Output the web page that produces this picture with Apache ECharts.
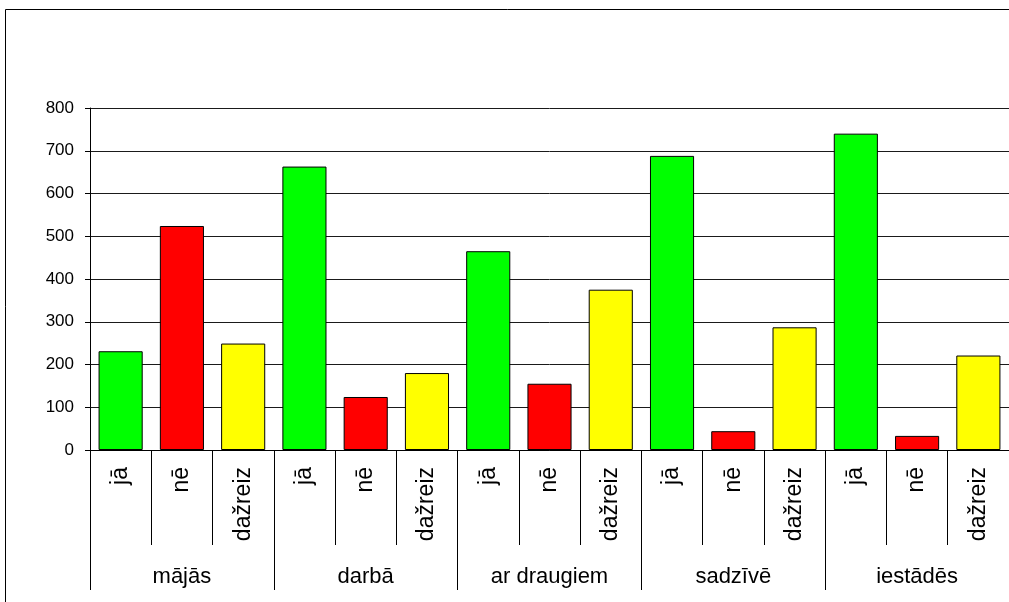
<!DOCTYPE html>
<html>
<head>
<meta charset="UTF-8">
<title>mājās / darbā</title>
<script src="https://cdn.jsdelivr.net/npm/echarts@6/dist/echarts.min.js"></script>
<style>
  html, body { margin: 0; padding: 0; background: #fff; }
  #main { width: 1009px; height: 602px; }
</style>
</head>
<body>
<div id="main"></div>
<script>
  // dati
  var groups = ['mājās', 'darbā', 'ar draugiem', 'sadzīvē', 'iestādēs'];
  var answers = ['jā', 'nē', 'dažreiz'];
  var values = [
    231, 524, 249,
    663, 124, 180,
    465, 155, 375,
    688, 44, 287,
    740, 33, 221
  ];
  var yTicks = [0, 100, 200, 300, 400, 500, 600, 700, 800];
  var answerColors = ['#00ff00', '#ff0000', '#ffff00'];

  var cats = [];
  groups.forEach(function (g) {
    answers.forEach(function (a) { cats.push(a); });
  });

  var font = 'Liberation Sans, Arial, sans-serif';
  var chart = echarts.init(document.getElementById('main'));
  chart.setOption({
    animation: false,
    graphic: [{
      type: 'rect',
      shape: { x: 5.5, y: 9.5, width: 1100, height: 700 },
      style: { fill: 'none', stroke: '#000', lineWidth: 1 },
      silent: true
    }],
    grid: { left: 90, right: -5, top: 108, bottom: 152 },
    xAxis: [{
      type: 'category',
      data: cats,
      position: 'bottom',
      axisLine: { lineStyle: { color: '#000', width: 1 } },
      axisTick: { show: true, interval: 0, length: 95, lineStyle: { color: '#000' } },
      axisLabel: { interval: 0, rotate: 90, margin: 17, color: '#000', fontSize: 23, fontFamily: font }
    }, {
      type: 'category',
      data: groups,
      position: 'bottom',
      axisLine: { show: false },
      axisTick: { show: true, interval: 0, length: 140, lineStyle: { color: '#000' } },
      axisLabel: { interval: 0, margin: 116, color: '#000', fontSize: 22, fontFamily: font }
    }],
    yAxis: {
      type: 'value',
      min: yTicks[0],
      max: yTicks[yTicks.length - 1],
      interval: 100,
      axisLine: { show: true, lineStyle: { color: '#000' } },
      axisTick: { show: true, length: 5, lineStyle: { color: '#000' } },
      axisLabel: { margin: 16, color: '#000', fontSize: 17, fontFamily: font },
      splitLine: { lineStyle: { color: '#1a1a1a', width: 1 } }
    },
    series: [{
      type: 'bar',
      xAxisIndex: 0,
      data: values,
      barCategoryGap: '28%',
      itemStyle: {
        color: function (p) { return answerColors[p.dataIndex % 3]; },
        borderColor: '#000',
        borderWidth: 1
      }
    }]
  });
</script>
</body>
</html>
